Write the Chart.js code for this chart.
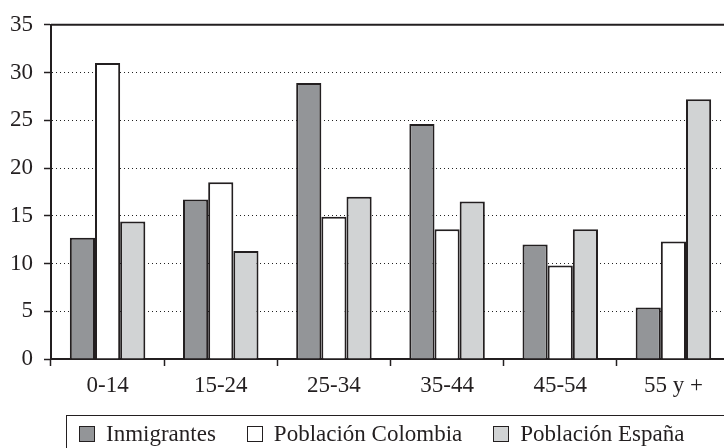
<!DOCTYPE html>
<html>
<head>
<meta charset="utf-8">
<script src="https://cdn.jsdelivr.net/npm/chart.js@4"></script>
<style>
    html, body { margin: 0; padding: 0; background: #fff; overflow: hidden; }
    #wrap { position: absolute; left: 0; top: 0; width: 730px; height: 448px; }
    #legend {
        position: absolute; left: 66px; top: 415px; width: 650px; height: 36px;
        border: 1px solid #231f20; display: flex; align-items: center;
        padding-left: 12px; box-sizing: content-box;
        font-family: 'Liberation Serif', 'Times New Roman', serif; font-size: 23px; color: #231f20;
    }
    #legend .item { display: flex; align-items: center; margin-right: 31px; }
    #legend .box { width: 14px; height: 14px; border: 1px solid #231f20; margin-right: 11px; }
</style>
</head>
<body>
<div id="wrap"><canvas id="chart"></canvas></div>
<div id="legend"></div>
<script>
// Chart data
const categories = ['0-14', '15-24', '25-34', '35-44', '45-54', '55 y +'];
const seriesNames = ['Inmigrantes', 'Población Colombia', 'Población España'];
const inmigrantes = [12.7, 16.7, 28.9, 24.6, 12.0, 5.4];
const colombia = [31.0, 18.5, 14.9, 13.6, 9.8, 12.3];
const espana = [14.4, 11.3, 17.0, 16.5, 13.6, 27.2];
const yTicks = [0, 5, 10, 15, 20, 25, 30, 35];

const ink = '#231f20';
const fills = ['#939598', '#ffffff', '#d1d3d4'];
const fontFamily = "'Liberation Serif', 'Times New Roman', serif";

// Solid frame line along the top of the plot area
const topFrame = {
    id: 'topFrame',
    afterDraw(chart) {
        const { ctx, chartArea } = chart;
        ctx.save();
        ctx.strokeStyle = ink;
        ctx.lineWidth = 2;
        ctx.beginPath();
        ctx.moveTo(chartArea.left, chartArea.top);
        ctx.lineTo(chartArea.right, chartArea.top);
        ctx.stroke();
        ctx.restore();
    }
};

function makeChart() {
    const ctx = document.getElementById('chart').getContext('2d');
    const values = [inmigrantes, colombia, espana];
    new Chart(ctx, {
        type: 'bar',
        data: {
            labels: categories,
            datasets: seriesNames.map((name, i) => ({
                label: name,
                data: values[i],
                backgroundColor: fills[i],
                borderColor: ink,
                borderWidth: 2,
                barPercentage: 1,
                categoryPercentage: 0.667
            }))
        },
        options: {
            responsive: true,
            maintainAspectRatio: false,
            animation: false,
            layout: { padding: { top: 22, left: 0, right: 0, bottom: 0 } },
            plugins: { legend: { display: false }, tooltip: { enabled: false } },
            scales: {
                x: {
                    offset: true,
                    grid: {
                        offset: true,
                        drawOnChartArea: false,
                        tickLength: 7,
                        tickColor: ink,
                        tickWidth: 1.5
                    },
                    border: { color: ink, width: 2 },
                    ticks: { color: ink, padding: 6, font: { family: fontFamily, size: 23 } },
                    afterFit(scale) { scale.height = 89; }
                },
                y: {
                    min: yTicks[0],
                    max: yTicks[yTicks.length - 1],
                    afterBuildTicks(scale) { scale.ticks = yTicks.map(v => ({ value: v })); },
                    grid: {
                        color: c => (c.tick && (c.tick.value === 0 || c.tick.value === 35)) ? 'rgba(0,0,0,0)' : '#222',
                        lineWidth: 1,
                        tickLength: 7,
                        tickColor: ink,
                        tickWidth: 1.5
                    },
                    border: { color: ink, width: 2, dash: [1, 3] },
                    ticks: { color: ink, padding: 11, font: { family: fontFamily, size: 23 } },
                    afterFit(scale) { scale.width = 51; }
                }
            }
        },
        plugins: [topFrame]
    });
}

// HTML legend built from the series names
function makeLegend() {
    const legend = document.getElementById('legend');
    seriesNames.forEach((name, i) => {
        const item = document.createElement('div');
        item.className = 'item';
        const box = document.createElement('span');
        box.className = 'box';
        box.style.background = fills[i];
        const text = document.createElement('span');
        text.textContent = name;
        item.appendChild(box);
        item.appendChild(text);
        legend.appendChild(item);
    });
}

makeLegend();
makeChart();
</script>
</body>
</html>
